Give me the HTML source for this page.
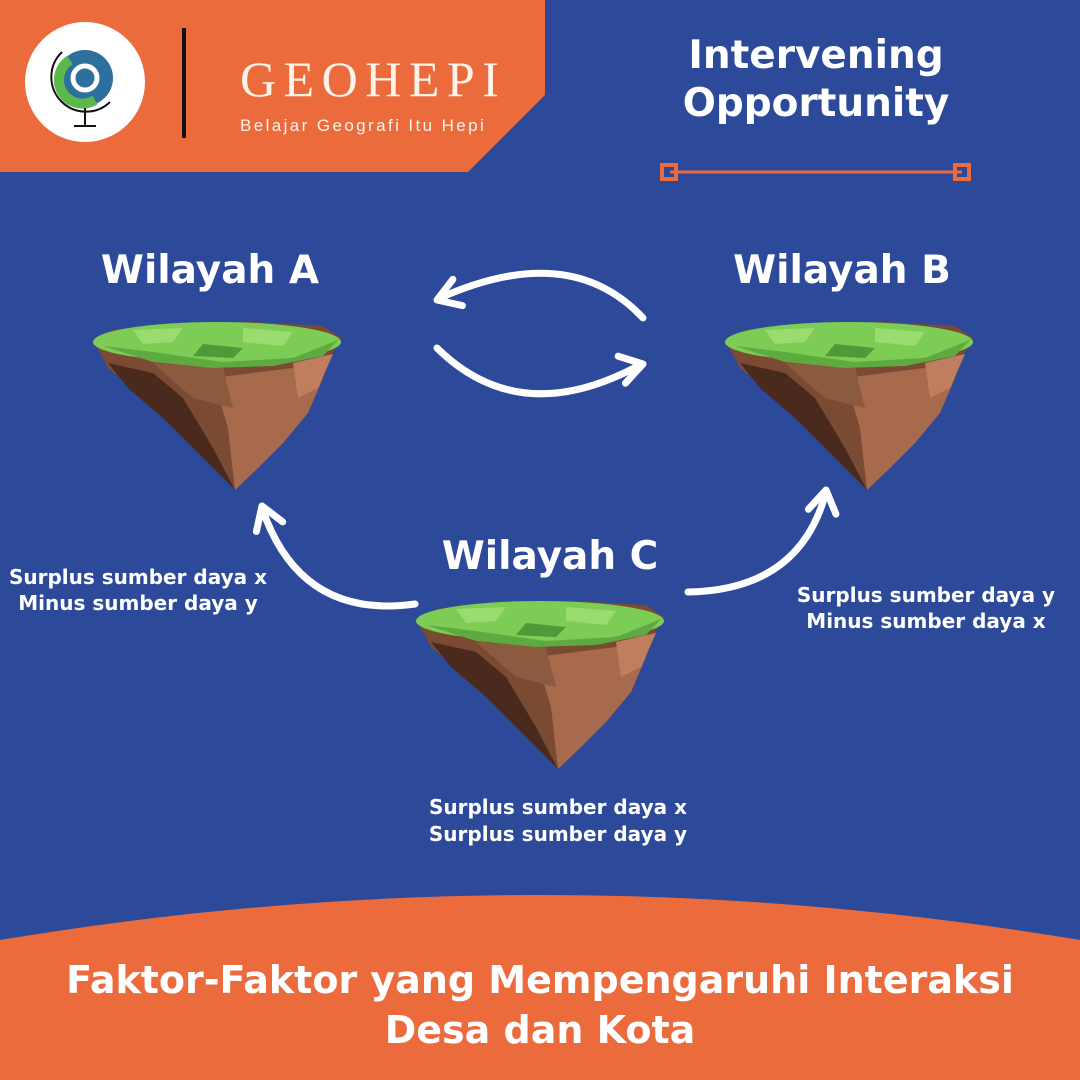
<!DOCTYPE html>
<html><head><meta charset="utf-8"><style>
body{margin:0}
#c{position:relative;width:1080px;height:1080px;background:#2c4a99;overflow:hidden;font-family:"DejaVu Sans","Liberation Sans",sans-serif;color:#fff;font-weight:bold}
.t{position:absolute;text-align:center;white-space:nowrap}
</style></head><body><div id="c">
<svg width="1080" height="1080" style="position:absolute;left:0;top:0">
<defs>
<g id="isl">
<polygon points="0,22 20,12 80,6 160,4 230,8 248,20 240,34 230,60 215,95 190,125 165,150 142,172 120,130 80,95 40,70 15,50" fill="#7a4a33"/>
<polygon points="15,45 60,55 90,80 120,130 142,172 110,140 70,100 35,70" fill="#4a2a1c"/>
<polygon points="120,60 200,50 230,60 215,95 190,125 165,150 142,172 135,110" fill="#a86a4c"/>
<polygon points="60,45 130,50 140,90 100,80" fill="#8c5a3e"/>
<polygon points="200,45 240,36 225,70 205,80" fill="#c07e5e"/>
<ellipse cx="124" cy="24" rx="124" ry="20" fill="#7ccc55"/>
<polygon points="10,28 60,34 130,44 200,40 245,22 230,38 180,48 120,50 60,44" fill="#5eaa40"/>
<polygon points="40,12 90,10 80,24 50,26" fill="#9bdc70"/>
<polygon points="150,10 200,14 190,28 150,24" fill="#9bdc70"/>
<polygon points="110,26 150,30 140,40 100,38" fill="#4e9a38"/>
</g>
<g id="ah"><path d="M0,0 L-22,-14 M0,0 L-22,14" stroke="#fff" stroke-width="7" stroke-linecap="round" fill="none"/></g>
</defs>
<polygon points="0,0 545,0 545,95 468,172 0,172" fill="#ec6b3d"/>
<circle cx="85" cy="82" r="60" fill="#fff"/>
<circle cx="85" cy="78" r="28" fill="#2e6f9e"/>
<path d="M70,60 a22,22 0 1 0 25,40" stroke="#5cb84a" stroke-width="10" fill="none"/>
<circle cx="85" cy="78" r="12" fill="none" stroke="#fff" stroke-width="5"/>
<path d="M62,52 a34,34 0 0 0 48,50" stroke="#111" stroke-width="2" fill="none"/>
<line x1="85" y1="108" x2="85" y2="126" stroke="#111" stroke-width="2"/>
<line x1="74" y1="126" x2="96" y2="126" stroke="#111" stroke-width="2"/>
<rect x="182" y="28" width="4" height="110" fill="#111"/>
<path d="M0,940 Q540,850 1080,940 L1080,1080 L0,1080 Z" fill="#ec6b3d"/>
<line x1="670" y1="172" x2="962" y2="172" stroke="#ec6b3d" stroke-width="3"/>
<rect x="662" y="165" width="14" height="14" fill="none" stroke="#ec6b3d" stroke-width="4"/>
<rect x="955" y="165" width="14" height="14" fill="none" stroke="#ec6b3d" stroke-width="4"/>
<use href="#isl" transform="translate(93,318)"/>
<use href="#isl" transform="translate(725,318)"/>
<use href="#isl" transform="translate(416,597)"/>
<g stroke="#fff" stroke-width="7" fill="none" stroke-linecap="round">
<path d="M643,318 Q570,240 440,298"/>
<path d="M437,348 Q520,430 640,365"/>
<path d="M415,604 Q300,620 262,508"/>
<path d="M688,592 Q800,590 826,492"/>
</g>
<use href="#ah" transform="translate(437,300) rotate(160)"/>
<use href="#ah" transform="translate(643,364) rotate(-15)"/>
<use href="#ah" transform="translate(262,506) rotate(-110)"/>
<use href="#ah" transform="translate(826,490) rotate(-80)"/>
</svg>
<div class="t" style="left:240px;top:50px;font-family:'Liberation Serif',serif;font-weight:normal;font-size:50px;letter-spacing:7.5px;color:#fdf3e8">GEOHEPI</div>
<div class="t" style="left:240px;top:116px;font-family:'Liberation Sans',sans-serif;font-weight:normal;font-size:17px;letter-spacing:2.4px;color:#fdf3e8">Belajar Geografi Itu Hepi</div>
<div class="t" style="left:660px;width:312px;top:32px;font-size:39px;line-height:48px">Intervening<br>Opportunity</div>
<div class="t" style="left:60px;width:300px;top:248px;font-size:39px">Wilayah A</div>
<div class="t" style="left:692px;width:300px;top:248px;font-size:39px">Wilayah B</div>
<div class="t" style="left:400px;width:300px;top:534px;font-size:39px">Wilayah C</div>
<div class="t" style="left:0;width:276px;top:564px;font-size:20px;line-height:26px">Surplus sumber daya x<br>Minus sumber daya y</div>
<div class="t" style="left:786px;width:280px;top:582px;font-size:20px;line-height:26px">Surplus sumber daya y<br>Minus sumber daya x</div>
<div class="t" style="left:418px;width:280px;top:794px;font-size:20px;line-height:27px">Surplus sumber daya x<br>Surplus sumber daya y</div>
<div class="t" style="left:0;width:1080px;top:955px;font-size:38px;line-height:50px">Faktor-Faktor yang Mempengaruhi Interaksi<br>Desa dan Kota</div>
</div></body></html>
